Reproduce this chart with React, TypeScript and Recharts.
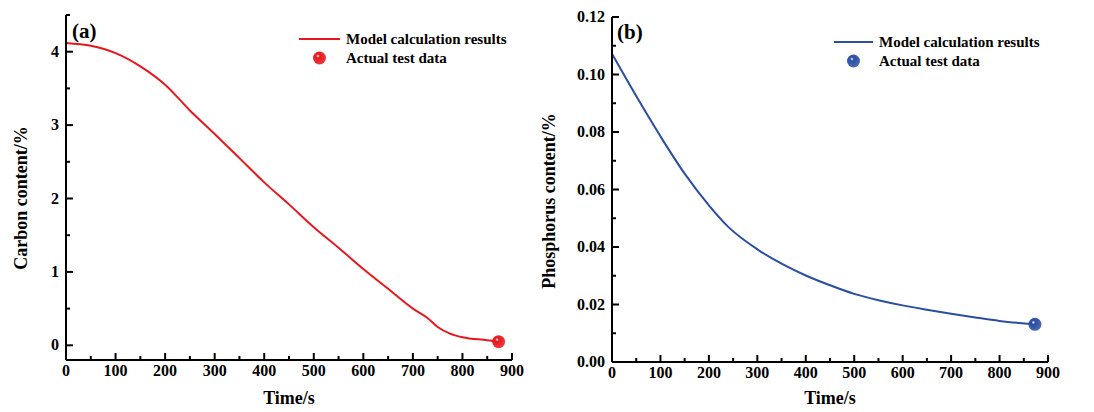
import React from 'react';
import { ComposedChart, Line, Scatter, XAxis, YAxis, Legend } from 'recharts';

// time axis (s)
const timeTicks = [0, 50, 100, 150, 200, 250, 300, 350, 400, 450, 500, 550, 600, 650, 700, 750, 800, 850, 900];
const carbonTicks = [0, 0.5, 1, 1.5, 2, 2.5, 3, 3.5, 4, 4.5];
const phosTicks = [0, 0.01, 0.02, 0.03, 0.04, 0.05, 0.06, 0.07, 0.08, 0.09, 0.1, 0.11, 0.12];

// (a) carbon model curve
const carbonTime = [0, 50, 100, 150, 200, 250, 300, 350, 400, 450, 500, 550, 600, 650, 700, 730, 750, 775, 800, 850, 873];
const carbonModel = [4.12, 4.08, 3.98, 3.8, 3.55, 3.2, 2.88, 2.55, 2.22, 1.92, 1.61, 1.33, 1.04, 0.77, 0.5, 0.37, 0.25, 0.16, 0.11, 0.07, 0.05];
const carbonTest = [{ t: 873, v: 0.05 }];

// (b) phosphorus model curve
const phosTime = [0, 50, 100, 150, 200, 240, 300, 350, 400, 450, 500, 550, 600, 650, 700, 750, 800, 873];
const phosModel = [0.1072, 0.0925, 0.0785, 0.0655, 0.0545, 0.047, 0.0392, 0.0342, 0.0301, 0.0267, 0.0237, 0.0215, 0.0197, 0.0182, 0.0168, 0.0155, 0.0143, 0.0131];
const phosTest = [{ t: 873, v: 0.0131 }];

const carbonData = carbonTime.map((t, i) => ({ t, v: carbonModel[i] }));
const phosData = phosTime.map((t, i) => ({ t, v: phosModel[i] }));

const FONT = '"Liberation Serif", "Times New Roman", serif';
const RED = '#e8171d';
const BLUE = '#2a4ea4';

const XTick = ({ x, y, payload }: any) => {
  const major = payload.value % 100 === 0;
  return (
    <g>
      <line x1={x} x2={x} y1={y} y2={y - (major ? 7 : 4)} stroke="#000" strokeWidth={2} />
      {major && (
        <text x={x} y={y + 16} textAnchor="middle" fontFamily={FONT} fontWeight="bold" fontSize={16} fill="#000">
          {payload.value}
        </text>
      )}
    </g>
  );
};

const makeYTick = (step: number, digits: number) => ({ x, y, payload }: any) => {
  const r = payload.value / step;
  const major = Math.abs(r - Math.round(r)) < 1e-6;
  return (
    <g>
      <line x1={x} x2={x + (major ? 7 : 4)} y1={y} y2={y} stroke="#000" strokeWidth={2} />
      {major && (
        <text x={x - 7} y={y + 5} textAnchor="end" fontFamily={FONT} fontWeight="bold" fontSize={16} fill="#000">
          {payload.value.toFixed(digits)}
        </text>
      )}
    </g>
  );
};

const CarbonTick = makeYTick(1, 0);
const PhosTick = makeYTick(0.02, 2);

const Sphere = ({ cx, cy, color, id }: any) => (
  <g>
    <defs>
      <radialGradient id={id} cx="38%" cy="35%" r="65%">
        <stop offset="0%" stopColor="#ffffff" />
        <stop offset="22%" stopColor={color} />
        <stop offset="100%" stopColor={color} stopOpacity={0.85} />
      </radialGradient>
    </defs>
    <circle cx={cx} cy={cy} r={6.5} fill={`url(#${id})`} />
  </g>
);

const LegendBox = ({ color, id, dx }: any) => (
  <svg width={230} height={44} style={{ overflow: 'visible' }}>
    <line x1={4} x2={4 + dx} y1={11} y2={11} stroke={color} strokeWidth={2} />
    <text x={dx + 10} y={16} fontFamily={FONT} fontWeight="bold" fontSize={15} fill="#000">
      Model calculation results
    </text>
    <Sphere cx={4 + dx / 2} cy={30} color={color} id={id} />
    <text x={dx + 10} y={35} fontFamily={FONT} fontWeight="bold" fontSize={15} fill="#000">
      Actual test data
    </text>
  </svg>
);

const yTitle = (text: string, x: number, y: number) => () => (
  <text x={x} y={y} transform={`rotate(-90 ${x} ${y})`} textAnchor="middle" dominantBaseline="central" fontFamily={FONT} fontWeight="bold" fontSize={18} fill="#000">
    {text}
  </text>
);

const xTitle = (x: number) => () => (
  <text x={x} y={404} textAnchor="middle" fontFamily={FONT} fontWeight="bold" fontSize={18} fill="#000">
    Time/s
  </text>
);

const panelLabel = (text: string, left: number, top: number) => (
  <div style={{ position: 'absolute', left, top, fontFamily: FONT, fontWeight: 'bold', fontSize: 21, lineHeight: '21px' }}>
    {text}
  </div>
);

export default function App() {
  return (
    <div style={{ position: 'absolute', left: 0, top: 0, width: 1094, height: 412, background: '#fff' }}>
      <div style={{ position: 'absolute', left: 0, top: 0 }}>
        <ComposedChart width={540} height={412} data={carbonData} margin={{ top: 15, right: 28, bottom: 0, left: 0 }}>
          <XAxis dataKey="t" type="number" domain={[0, 900]} ticks={timeTicks} interval={0} height={52}
            axisLine={{ stroke: '#000', strokeWidth: 2 }} tickLine={false} tickSize={0} tickMargin={0}
            tick={<XTick />} label={{ content: xTitle(289) }} />
          <XAxis xAxisId="top" orientation="top" type="number" domain={[0, 900]} height={0} tick={false} tickLine={false}
            axisLine={{ stroke: '#000', strokeWidth: 2 }} />
          <YAxis type="number" domain={[-0.2, 4.5]} ticks={carbonTicks} interval={0} width={66}
            axisLine={{ stroke: '#000', strokeWidth: 2 }} tickLine={false} tickSize={0} tickMargin={0}
            tick={<CarbonTick />} label={{ content: yTitle('Carbon content/%', 21, 198) }} />
          <YAxis yAxisId="right" orientation="right" domain={[-0.2, 4.5]} width={0} tick={false} tickLine={false}
            axisLine={{ stroke: '#000', strokeWidth: 2 }} />
          <Legend layout="vertical" align="center" verticalAlign="middle"
            wrapperStyle={{ top: 28, left: 295, width: 230, height: 44 }}
            content={() => <LegendBox color={RED} id="legA" dx={41} />} />
          <Line type="monotone" dataKey="v" stroke={RED} strokeWidth={2} dot={false} isAnimationActive={false} />
          <Scatter data={carbonTest} dataKey="v" isAnimationActive={false}
            shape={(p: any) => <Sphere cx={p.cx} cy={p.cy} color={RED} id="ptA" />} />
        </ComposedChart>
        {panelLabel('(a)', 72, 21)}
      </div>
      <div style={{ position: 'absolute', left: 540, top: 0 }}>
        <ComposedChart width={554} height={412} data={phosData} margin={{ top: 17, right: 46, bottom: 0, left: 0 }}>
          <XAxis dataKey="t" type="number" domain={[0, 900]} ticks={timeTicks} interval={0} height={50}
            axisLine={{ stroke: '#000', strokeWidth: 2 }} tickLine={false} tickSize={0} tickMargin={0}
            tick={<XTick />} label={{ content: xTitle(290) }} />
          <XAxis xAxisId="top" orientation="top" type="number" domain={[0, 900]} height={0} tick={false} tickLine={false}
            axisLine={{ stroke: '#000', strokeWidth: 2 }} />
          <YAxis type="number" domain={[0, 0.12]} ticks={phosTicks} interval={0} width={72}
            axisLine={{ stroke: '#000', strokeWidth: 2 }} tickLine={false} tickSize={0} tickMargin={0}
            tick={<PhosTick />} label={{ content: yTitle('Phosphorus content/%', 9, 201) }} />
          <YAxis yAxisId="right" orientation="right" domain={[0, 0.12]} width={0} tick={false} tickLine={false}
            axisLine={{ stroke: '#000', strokeWidth: 2 }} />
          <Legend layout="vertical" align="center" verticalAlign="middle"
            wrapperStyle={{ top: 31, left: 290, width: 230, height: 44 }}
            content={() => <LegendBox color={BLUE} id="legB" dx={39} />} />
          <Line type="monotone" dataKey="v" stroke={BLUE} strokeWidth={2} dot={false} isAnimationActive={false} />
          <Scatter data={phosTest} dataKey="v" isAnimationActive={false}
            shape={(p: any) => <Sphere cx={p.cx} cy={p.cy} color={BLUE} id="ptB" />} />
        </ComposedChart>
        {panelLabel('(b)', 77, 22)}
      </div>
    </div>
  );
}
